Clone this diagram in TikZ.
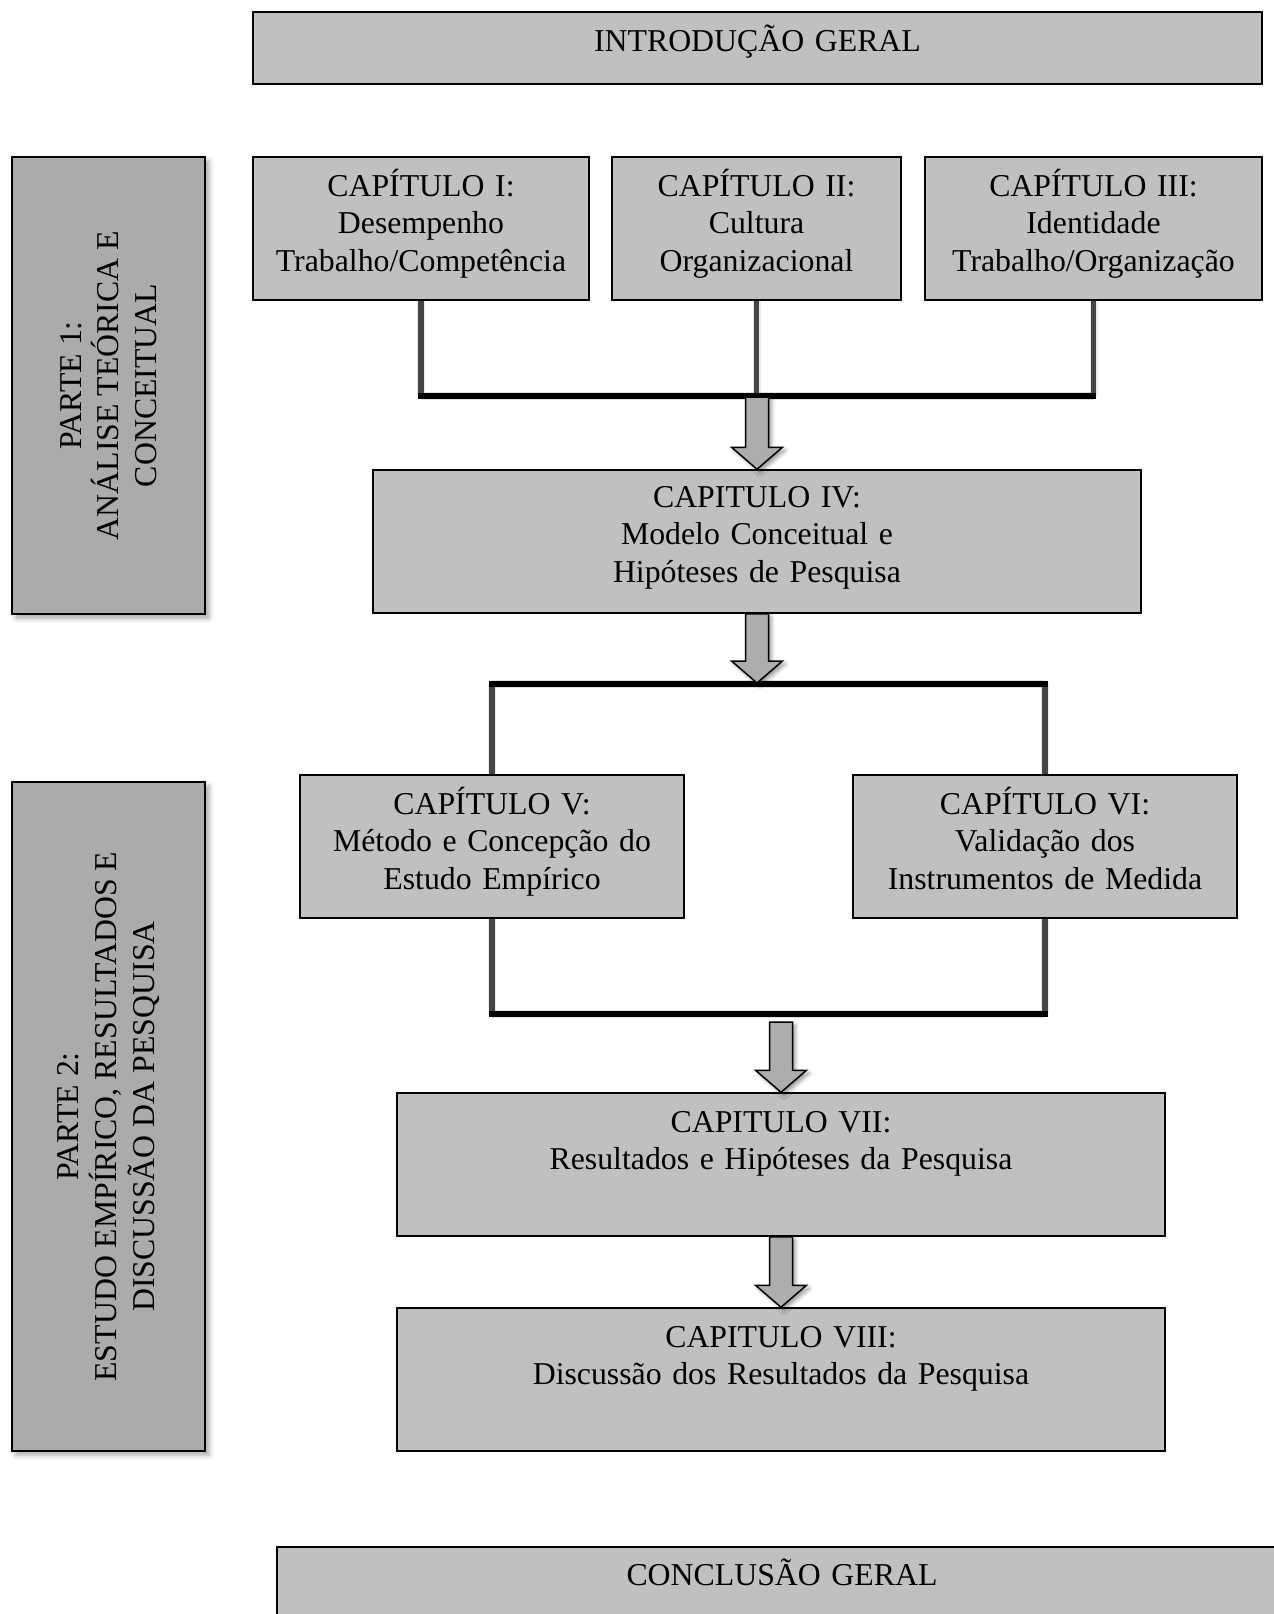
\documentclass[tikz,border=0pt]{standalone}
\usepackage{fontspec}
\setmainfont{Liberation Serif}
\usetikzlibrary{calc,shadows.blur}

\definecolor{boxgray}{gray}{0.753}
\definecolor{partgray}{gray}{0.67}
\definecolor{arrowgray}{gray}{0.68}
\definecolor{linegray}{gray}{0.27}

% outlined block arrow from #1 (top of shaft) down to #2 (tip)
\newcommand{\blockarrow}[2]{%
  \path[blockarrow] let \p1=(#1), \p2=(#2) in
    (\x1-5.75pt,\y1) -- (\x1+5.75pt,\y1) -- (\x1+5.75pt,\y2+11pt)
    -- (\x1+12.75pt,\y2+11pt) -- (\x1,\y2) -- (\x1-12.75pt,\y2+11pt)
    -- (\x1-5.75pt,\y2+11pt) -- cycle;}

\begin{document}
\begin{tikzpicture}[x=0.5pt,y=-0.5pt,
  txt/.style={font=\fontsize{15.9}{18.8}\selectfont},
  chapbox/.style={draw=black, line width=0.75pt, fill=boxgray, inner sep=0pt},
  partbox/.style={draw=black, line width=0.9pt, fill=partgray, inner sep=0pt,
    blur shadow={shadow xshift=2pt, shadow yshift=-2pt, shadow blur radius=2.5pt, shadow opacity=35}},
  boxtext/.style={txt, anchor=base, align=center, inner sep=0pt},
  parttext/.style={txt, rotate=90, align=center, inner sep=0pt},
  vconn/.style={draw=linegray, line width=2.6pt},
  hconn/.style={draw=black, line width=2.8pt, line cap=rect},
  connshadow/.style={draw=black, opacity=0.12, line width=4pt},
  blockarrow/.style={draw=black, line width=0.75pt, fill=arrowgray, line join=miter,
    blur shadow={shadow xshift=1.5pt, shadow yshift=-1.5pt, shadow blur radius=2pt, shadow opacity=40}},
]
\useasboundingbox (0,0) rectangle (1274,1614);

% ---------- boxes ----------
\node[chapbox, minimum width=504.5pt, minimum height=36pt] (intro) at (757.5,48) {};
\node[partbox, minimum width=96.5pt, minimum height=228.5pt] (part1) at (108.5,385.5) {};
\node[chapbox, minimum width=168pt, minimum height=71.5pt] (cap1) at (421,228.5) {};
\node[chapbox, minimum width=144.5pt, minimum height=71.5pt] (cap2) at (756.5,228.5) {};
\node[chapbox, minimum width=168.5pt, minimum height=71.5pt] (cap3) at (1093.5,228.5) {};
\node[chapbox, minimum width=384pt, minimum height=71.5pt] (cap4) at (757,541.5) {};
\node[partbox, minimum width=96.5pt, minimum height=334.5pt] (part2) at (108.5,1116.5) {};
\node[chapbox, minimum width=192pt, minimum height=71.5pt] (cap5) at (492,846.5) {};
\node[chapbox, minimum width=192pt, minimum height=71.5pt] (cap6) at (1045,846.5) {};
\node[chapbox, minimum width=384pt, minimum height=71.5pt] (cap7) at (781,1164.5) {};
\node[chapbox, minimum width=384pt, minimum height=71.5pt] (cap8) at (781,1379.5) {};
\node[chapbox, minimum width=505pt, minimum height=36pt] (concl) at (782,1583) {};

% ---------- texts ----------
\node[boxtext, text width=480pt] (tintro) at ($(intro.north)+(0,40)$) {INTRODUÇÃO GERAL};
\node[boxtext, text width=160pt] (tcap1) at ($(cap1.north)+(0,40)$) {CAPÍTULO I:\\Desempenho\\Trabalho/Competência};
\node[boxtext, text width=140pt] (tcap2) at ($(cap2.north)+(0,40)$) {CAPÍTULO II:\\Cultura\\Organizacional};
\node[boxtext, text width=160pt] (tcap3) at ($(cap3.north)+(0,40)$) {CAPÍTULO III:\\Identidade\\Trabalho/Organização};
\node[boxtext, text width=370pt] (tcap4) at ($(cap4.north)+(0,38)$) {CAPITULO IV:\\Modelo Conceitual e\\Hipóteses de Pesquisa};
\node[boxtext, text width=185pt] (tcap5) at ($(cap5.north)+(0,40)$) {CAPÍTULO V:\\Método e Concepção do\\Estudo Empírico};
\node[boxtext, text width=185pt] (tcap6) at ($(cap6.north)+(0,40)$) {CAPÍTULO VI:\\Validação dos\\Instrumentos de Medida};
\node[boxtext, text width=370pt] (tcap7) at ($(cap7.north)+(0,40)$) {CAPITULO VII:\\Resultados e Hipóteses da Pesquisa};
\node[boxtext, text width=370pt] (tcap8) at ($(cap8.north)+(0,40)$) {CAPITULO VIII:\\Discussão dos Resultados da Pesquisa};
\node[boxtext, text width=480pt] (tconcl) at ($(concl.north)+(0,39)$) {CONCLUSÃO GERAL};
\node[parttext] (tpart1) at (part1.center) {PARTE 1:\\ANÁLISE TEÓRICA E\\CONCEITUAL};
\node[parttext] (tpart2) at (part2.center) {PARTE 2:\\ESTUDO EMPÍRICO, RESULTADOS E\\DISCUSSÃO DA PESQUISA};

% ---------- connector levels ----------
\coordinate (lvA) at (0,396);
\coordinate (lvB) at (0,684);
\coordinate (lvC) at (0,1014);
\coordinate (lvCa) at (0,1022);

% shadows of the connectors
\begin{scope}[shift={(4,6)}]
  \draw[connshadow] (cap1.south |- lvA) -- (cap3.south |- lvA);
  \draw[connshadow] (cap5.north |- lvB) -- (cap6.north |- lvB);
  \draw[connshadow] (cap5.south |- lvC) -- (cap6.south |- lvC);
\end{scope}
\begin{scope}[shift={(4,0)}]
  \draw[connshadow, opacity=0.08] (cap1.south) -- (cap1.south |- lvA);
  \draw[connshadow, opacity=0.08] (cap2.south) -- (cap2.south |- lvA);
  \draw[connshadow, opacity=0.08] (cap3.south) -- (cap3.south |- lvA);
  \draw[connshadow, opacity=0.08] (cap5.north) -- (cap5.north |- lvB);
  \draw[connshadow, opacity=0.08] (cap6.north) -- (cap6.north |- lvB);
  \draw[connshadow, opacity=0.08] (cap5.south) -- (cap5.south |- lvC);
  \draw[connshadow, opacity=0.08] (cap6.south) -- (cap6.south |- lvC);
\end{scope}

% chapters I-III join
\draw[vconn] (cap1.south) -- (cap1.south |- lvA);
\draw[vconn] (cap2.south) -- (cap2.south |- lvA);
\draw[vconn] (cap3.south) -- (cap3.south |- lvA);
\draw[hconn] (cap1.south |- lvA) -- (cap3.south |- lvA);

% split to chapters V and VI
\draw[vconn] (cap5.north |- lvB) -- (cap5.north);
\draw[vconn] (cap6.north |- lvB) -- (cap6.north);
\draw[hconn] (cap5.north |- lvB) -- (cap6.north |- lvB);

% chapters V and VI join
\draw[vconn] (cap5.south) -- (cap5.south |- lvC);
\draw[vconn] (cap6.south) -- (cap6.south |- lvC);
\draw[hconn] (cap5.south |- lvC) -- (cap6.south |- lvC);

% ---------- block arrows ----------
\coordinate (a1s) at ($(cap4.north |- lvA)+(0,1)$);
\blockarrow{a1s}{cap4.north}
\coordinate (a2e) at ($(cap4.south |- lvB)+(0,-1)$);
\blockarrow{cap4.south}{a2e}
\coordinate (a3s) at (cap7.north |- lvCa);
\blockarrow{a3s}{cap7.north}
\blockarrow{cap7.south}{cap8.north}
\end{tikzpicture}
\end{document}
